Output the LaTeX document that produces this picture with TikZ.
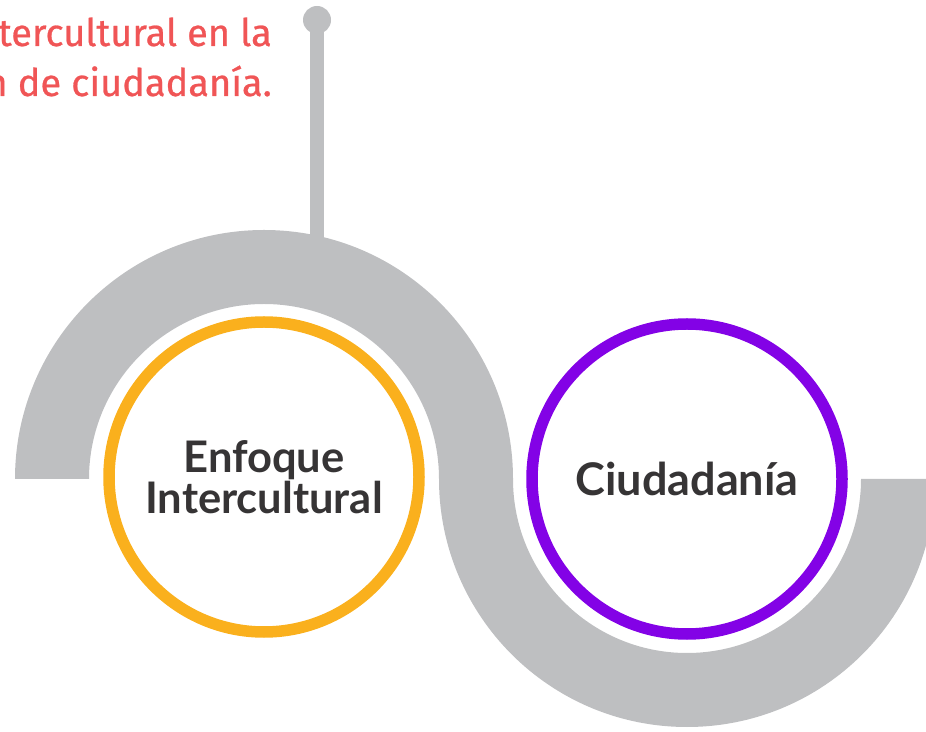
\documentclass[tikz,border=0pt]{standalone}
\usepackage{fontspec}
\setmainfont{Lato}
\newfontfamily\firafont[FakeBold=0.7]{Fira Sans}
\definecolor{band}{HTML}{BEBFC1}
\definecolor{yel}{HTML}{FAB01D}
\definecolor{pur}{HTML}{8302E6}
\definecolor{txt}{HTML}{363435}
\definecolor{red}{HTML}{F05556}
\tikzset{
  ring/.style={circle, draw, line width=11.5pt, fill=white, minimum size=310pt, inner sep=0pt,
    text=txt, align=center},
  title/.style={font=\firafont\fontsize{38}{50}\selectfont, text=red, inner sep=0pt, anchor=base east}
}
\begin{document}
\begin{tikzpicture}[x=1pt,y=1pt]
\useasboundingbox (0,0) rectangle (926,731);
% S band
\fill[band] (15,252) arc[start angle=180,end angle=0,radius=249] -- (439,252) arc[start angle=0,end angle=180,radius=175] -- cycle;
\fill[band] (439,252) arc[start angle=180,end angle=360,radius=248] -- (861,252) arc[start angle=360,end angle=180,radius=174] -- cycle;
% pin
\node[circle, fill=band, minimum size=28pt, inner sep=0pt] (pinhead) at (317,711) {};
\coordinate (pinbase) at (317,485);
\draw[band, line width=14pt] (pinhead.center) -- (pinbase);
% circles
\node[ring, draw=yel, font=\fontsize{43.5}{41}\selectfont\bfseries] (enfoque) at (264,254) {Enfoque\\Intercultural};
\node[ring, draw=pur, font=\fontsize{45}{41}\selectfont\bfseries] (ciudad) at (687,252) {Ciudadanía};
% title
\node[title] (t1) at (272,685) {tercultural en la};
\node[title] (t2) at (272,635) {n de ciudadanía.};
\end{tikzpicture}
\end{document}
